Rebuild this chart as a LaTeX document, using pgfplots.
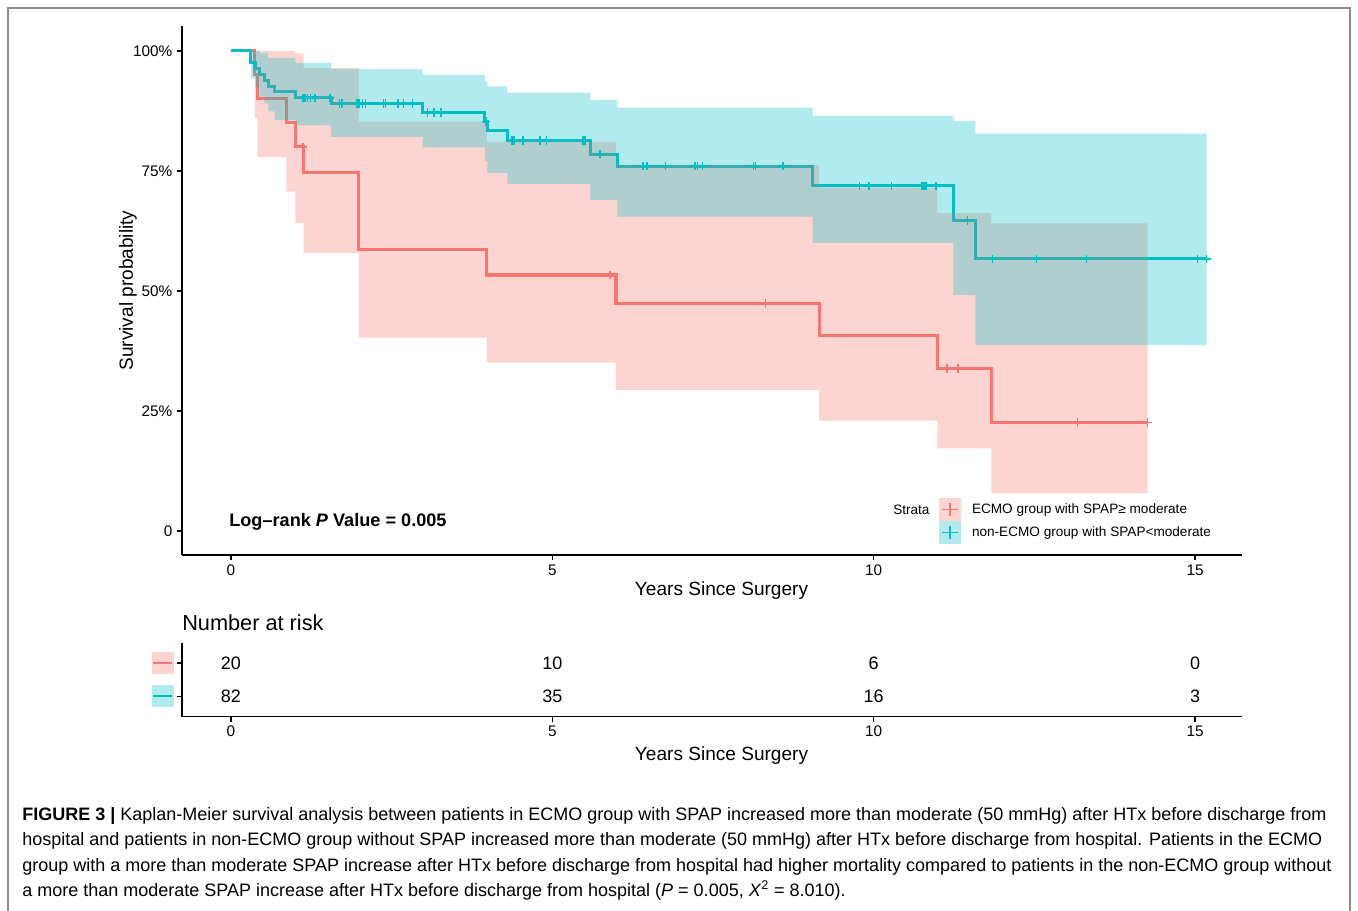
\documentclass[border=0pt]{standalone}
\usepackage{pgfplots}
\usepackage{pgfplotstable}
\pgfplotsset{compat=1.18}
\usepackage{fontspec}
\setmainfont{Liberation Sans}
\definecolor{cR}{HTML}{F8766D}
\definecolor{cB}{HTML}{00BFC4}

% Kaplan-Meier estimates (time in years, survival)
\pgfplotstableread{
t S
0 1
0.37 0.95
0.41 0.90
0.86 0.85
1.00 0.80
1.13 0.7467
1.99 0.5867
3.98 0.5333
5.99 0.4741
9.15 0.4063
10.99 0.3386
11.83 0.2257
14.26 0.2257
}\redS
\pgfplotstableread{
t S
0 1
0.31 0.9756
0.38 0.9634
0.45 0.9512
0.52 0.9390
0.58 0.9268
0.68 0.9146
1.00 0.9024
1.56 0.8902
2.98 0.872
3.95 0.853
3.99 0.834
4.30 0.813
5.59 0.785
6.01 0.760
9.05 0.719
11.24 0.647
11.58 0.567
15.18 0.567
}\blueS
% 95% confidence bands: outline (upper limit forwards, lower limit backwards)
\pgfplotstableread{
t s
0 1
1.00 1
1.00 0.995
1.13 0.995
1.13 0.964
1.99 0.964
1.99 0.853
3.98 0.853
3.98 0.811
5.99 0.811
5.99 0.763
9.15 0.763
9.15 0.715
10.99 0.715
10.99 0.662
11.83 0.662
11.83 0.641
14.26 0.641
14.26 0.0785
11.83 0.0785
11.83 0.172
10.99 0.172
10.99 0.230
9.15 0.230
9.15 0.294
5.99 0.294
5.99 0.351
3.98 0.351
3.98 0.403
1.99 0.403
1.99 0.579
1.13 0.579
1.13 0.642
1.00 0.642
1.00 0.707
0.86 0.707
0.86 0.779
0.41 0.779
0.41 0.86
0.37 0.86
0.37 1
0 1
}\redCI
\pgfplotstableread{
t s
0 1
0.45 1
0.45 0.995
0.58 0.995
0.58 0.985
1.00 0.985
1.00 0.975
1.56 0.975
1.56 0.962
2.98 0.962
2.98 0.950
3.95 0.950
3.95 0.936
3.99 0.936
3.99 0.926
4.30 0.926
4.30 0.913
5.59 0.913
5.59 0.898
6.01 0.898
6.01 0.882
9.05 0.882
9.05 0.865
11.24 0.865
11.24 0.854
11.58 0.854
11.58 0.828
15.18 0.828
15.18 0.3875
11.58 0.3875
11.58 0.492
11.24 0.492
11.24 0.600
9.05 0.600
9.05 0.655
6.01 0.655
6.01 0.690
5.59 0.690
5.59 0.723
4.30 0.723
4.30 0.746
3.99 0.746
3.99 0.770
3.95 0.770
3.95 0.799
2.98 0.799
2.98 0.821
1.56 0.821
1.56 0.845
1.00 0.845
1.00 0.856
0.68 0.856
0.68 0.874
0.58 0.874
0.58 0.891
0.52 0.891
0.52 0.905
0.45 0.905
0.45 0.924
0.38 0.924
0.38 0.943
0.31 0.943
0.31 1
0 1
}\blueCI
% censoring times
\pgfplotstableread{
t S
1.12 0.80
5.90 0.5333
8.32 0.4741
11.14 0.3386
11.31 0.3386
13.17 0.2257
14.26 0.2257
}\redC
\pgfplotstableread{
t S
1.12 0.9024
1.15 0.9024
1.19 0.9024
1.24 0.9024
1.31 0.9024
1.54 0.9024
1.69 0.8902
1.73 0.8902
1.96 0.8902
1.99 0.8902
2.05 0.8902
2.09 0.8902
2.37 0.8902
2.40 0.8902
2.60 0.8902
2.68 0.8902
2.82 0.8902
3.06 0.872
3.15 0.872
3.17 0.872
3.27 0.872
3.97 0.853
4.37 0.813
4.40 0.813
4.54 0.813
4.81 0.813
4.91 0.813
5.48 0.813
5.51 0.813
5.74 0.785
6.41 0.760
6.47 0.760
6.76 0.760
7.22 0.760
7.26 0.760
7.34 0.760
8.13 0.760
8.16 0.760
8.59 0.760
9.78 0.719
9.93 0.719
10.28 0.719
10.75 0.719
10.78 0.719
10.81 0.719
10.97 0.719
11.46 0.647
11.85 0.567
12.53 0.567
13.31 0.567
15.04 0.567
15.18 0.567
}\blueC
% number at risk
\pgfplotstableread{
t row n
0 2 20
5 2 10
10 2 6
15 2 0
0 1 82
5 1 35
10 1 16
15 1 3
}\risk

\newcommand{\keyR}{\tikz[baseline=0pt]{\fill[cR,fill opacity=0.3,draw=none] (0,-8.25pt) rectangle (16.5pt,8.25pt); \draw[cR,line width=1.5pt] (1pt,0)--(15.5pt,0);}}
\newcommand{\keyB}{\tikz[baseline=0pt]{\fill[cB,fill opacity=0.3,draw=none] (0,-8.25pt) rectangle (16.5pt,8.25pt); \draw[cB,line width=1.5pt] (1pt,0)--(15.5pt,0);}}

\begin{document}
\begin{tikzpicture}
\useasboundingbox (0,0) rectangle (1018.5pt,682.5pt);
\fill[white] (0,0) rectangle (1018.5pt,682.5pt);
\draw[black!45, line width=0.9pt] (6pt,-10pt) -- (6pt,676.5pt) -- (1012.5pt,676.5pt) -- (1012.5pt,-10pt);

\begin{axis}[
  at={(136.5pt,266.25pt)}, anchor=south west,
  scale only axis, width=795pt, height=396.75pt,
  xmin=-0.762, xmax=15.73, ymin=-0.05, ymax=1.052,
  axis x line*=bottom, axis y line*=left,
  axis line style={-, line width=0.9pt, black},
  tick align=outside, major tick length=3.75pt,
  tick style={black, line width=0.9pt},
  xtick={0,5,10,15}, xticklabels={0,5,10,15},
  ytick={0,0.25,0.5,0.75,1}, yticklabels={0,25\%,50\%,75\%,100\%},
  ticklabel style={font=\fontsize{11.5}{13}\selectfont},
  xlabel={Years Since Surgery}, ylabel={Survival probability},
  label style={font=\fontsize{14.3}{16}\selectfont},
  xlabel style={at={(axis description cs:0.509,-0.068)}, anchor=center},
  ylabel style={at={(axis description cs:-0.0509,0.5)}, anchor=center},
  legend style={at={(0.7142,0.0208)}, anchor=south west, draw=none, fill=none,
    inner sep=0pt, font=\fontsize{10.2}{12}\selectfont, row sep=0.6pt,
    /tikz/every odd column/.append style={column sep=6.5pt}},
  legend cell align=left,
]
\addplot[cR, line width=2.3pt, const plot, forget plot] table[x=t, y=S] {\redS};
\addplot[cB, line width=2.3pt, const plot, forget plot] table[x=t, y=S] {\blueS};

\addplot[fill=cR, fill opacity=0.3, draw=none, forget plot] table[x=t, y=s] {\redCI};
\addplot[fill=cB, fill opacity=0.3, draw=none, forget plot] table[x=t, y=s] {\blueCI};

\addplot[only marks, mark=+, mark size=3.2pt, cR, mark options={line width=1.1pt}, forget plot] table[x=t, y=S] {\redC};
\addplot[only marks, mark=+, mark size=3.2pt, cB, mark options={line width=1.1pt}, forget plot] table[x=t, y=S] {\blueC};

\addlegendimage{legend image code/.code={
  \fill[cR, fill opacity=0.3, draw=none] (0pt,-8.4pt) rectangle (16pt,8.4pt);
  \draw[cR, line width=1.1pt] (2pt,0pt) -- (14pt,0pt);
  \draw[cR, line width=1.1pt] (8pt,-4.9pt) -- (8pt,4.9pt);}}
\addlegendentry{ECMO group with SPAP≥ moderate}
\addlegendimage{legend image code/.code={
  \fill[cB, fill opacity=0.3, draw=none] (0pt,-8.4pt) rectangle (16pt,8.4pt);
  \draw[cB, line width=1.1pt] (2pt,0pt) -- (14pt,0pt);
  \draw[cB, line width=1.1pt] (8pt,-4.9pt) -- (8pt,4.9pt);}}
\addlegendentry{non-ECMO group with SPAP<moderate}

\node[anchor=west, inner sep=0pt, font=\fontsize{10.2}{12}\selectfont] at (axis cs:10.30,0.0437) {Strata};
\node[anchor=base west, inner sep=0pt, font=\bfseries\fontsize{13.6}{16}\selectfont] at (axis cs:-0.03,0.0104) {Log--rank \textit{P} Value = 0.005};
\end{axis}

\begin{axis}[
  at={(136.5pt,145.125pt)}, anchor=south west,
  scale only axis, width=795pt, height=55.1pt,
  xmin=-0.762, xmax=15.73, ymin=0.4, ymax=2.6,
  axis x line*=bottom, axis y line*=left,
  axis line style={-, line width=0.9pt, black},
  tick align=outside, major tick length=3.75pt,
  tick style={black, line width=0.9pt},
  xtick={0,5,10,15}, xticklabels={0,5,10,15},
  ytick={1,2}, yticklabels={\keyB,\keyR},
  ticklabel style={font=\fontsize{11.5}{13}\selectfont},
  yticklabel style={inner sep=2.2pt},
  xlabel={Years Since Surgery},
  label style={font=\fontsize{14.3}{16}\selectfont},
  xlabel style={at={(axis description cs:0.509,-0.531)}, anchor=center},
]
\addplot[only marks, mark=*, mark size=0.01pt, mark options={draw=none, fill=none},
  nodes near coords, point meta=explicit symbolic,
  every node near coord/.style={anchor=center, text=black, font=\fontsize{13.5}{15}\selectfont}]
  table[x=t, y=row, meta=n] {\risk};
\end{axis}

\node[anchor=base west, inner sep=0pt, font=\fontsize{16.3}{18}\selectfont] at (136.5pt,209.6pt) {Number at risk};

\begin{scope}[every node/.style={anchor=base west, inner sep=0pt, font=\fontsize{13.5}{16}\selectfont}]
\node at (16.5pt,67.5pt) {\textbf{FIGURE 3 |} Kaplan-Meier survival analysis between patients in ECMO group with SPAP increased more than moderate (50 mmHg) after HTx before discharge from};
\node at (16.5pt,48.375pt) {hospital and patients in non-ECMO group without SPAP increased more than moderate (50 mmHg) after HTx before discharge from hospital. Patients in the ECMO};
\node at (16.5pt,29.25pt) {group with a more than moderate SPAP increase after HTx before discharge from hospital had higher mortality compared to patients in the non-ECMO group without};
\node at (16.5pt,10.125pt) {a more than moderate SPAP increase after HTx before discharge from hospital (\textit{P} = 0.005, \textit{X}\textsuperscript{2} = 8.010).};
\end{scope}
\end{tikzpicture}
\end{document}
